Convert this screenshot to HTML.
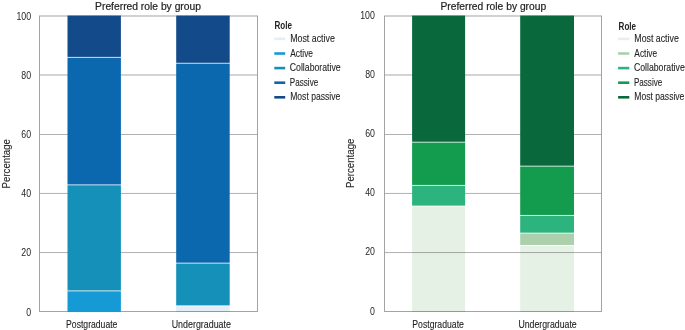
<!DOCTYPE html>
<html lang="en">
<head>
<meta charset="utf-8">
<title>Preferred role by group</title>
<style>
html,body{margin:0;padding:0;background:#fff;}
body{width:685px;height:330px;overflow:hidden;}
svg{display:block;font-family:"Liberation Sans",sans-serif;fill:#1f1f1f;}
text{stroke:#1f1f1f;stroke-width:0.1px;}
.t{stroke-width:0.22px;}
.k{stroke-width:0;}
</style>
</head>
<body>
<svg width="685" height="330" viewBox="0 0 685 330">
<rect x="0" y="0" width="685" height="330" fill="#ffffff"/>
<g>
<line x1="39.5" x2="257.5" y1="252.55" y2="252.55" stroke="#a8a8a8" stroke-width="0.9"/>
<line x1="39.5" x2="257.5" y1="193.45" y2="193.45" stroke="#a8a8a8" stroke-width="0.9"/>
<line x1="39.5" x2="257.5" y1="134.5" y2="134.5" stroke="#a8a8a8" stroke-width="0.9"/>
<line x1="39.5" x2="257.5" y1="75.0" y2="75.0" stroke="#a8a8a8" stroke-width="1.0"/>
<rect x="39.5" y="16.0" width="218.00" height="295.5" fill="none" stroke="#9a9a9a" stroke-width="0.9"/>
<rect x="67.5" y="291.30" width="53.40" height="20.75" fill="#169ad6"/>
<rect x="67.5" y="185.29" width="53.40" height="105.21" fill="#1590b8"/>
<rect x="67.5" y="57.70" width="53.40" height="126.79" fill="#0b67ae"/>
<rect x="67.5" y="15.55" width="53.40" height="41.35" fill="#134a89"/>
<rect x="176.2" y="306.20" width="53.50" height="5.85" fill="#e3eef8" style="mix-blend-mode:multiply"/>
<rect x="176.2" y="263.51" width="53.50" height="41.90" fill="#1590b8"/>
<rect x="176.2" y="63.61" width="53.50" height="199.09" fill="#0b67ae"/>
<rect x="176.2" y="15.55" width="53.50" height="47.26" fill="#134a89"/>
<text class="k" transform="translate(26.22,315.60) scale(0.8700,1)" font-size="10.1" font-weight="normal">0</text>
<text class="k" transform="translate(21.35,256.46) scale(0.8700,1)" font-size="10.1" font-weight="normal">20</text>
<text class="k" transform="translate(21.35,197.32) scale(0.8700,1)" font-size="10.1" font-weight="normal">40</text>
<text class="k" transform="translate(21.35,138.18) scale(0.8700,1)" font-size="10.1" font-weight="normal">60</text>
<text class="k" transform="translate(21.35,79.04) scale(0.8700,1)" font-size="10.1" font-weight="normal">80</text>
<text class="k" transform="translate(16.43,19.90) scale(0.8700,1)" font-size="10.1" font-weight="normal">100</text>
<text transform="translate(9.70,188.40) rotate(-90) scale(0.9130,1)" font-size="10.6">Percentage</text>
<text transform="translate(95.10,9.90) scale(0.9202,1)" font-size="11.2" font-weight="normal" class="t">Preferred role by group</text>
<text transform="translate(66.10,328.20) scale(0.8553,1)" font-size="10.1" font-weight="normal">Postgraduate</text>
<text transform="translate(171.70,328.20) scale(0.8803,1)" font-size="10.1" font-weight="normal">Undergraduate</text>
<text transform="translate(274.50,28.60) scale(0.7626,1)" font-size="10.6" font-weight="bold" class="k">Role</text>
<line x1="274.3" x2="285.2" y1="38.90" y2="38.90" stroke="#e3eef8" stroke-width="2.6"/>
<text transform="translate(290.20,42.10) scale(0.8585,1)" font-size="10.3" font-weight="normal">Most active</text>
<line x1="274.3" x2="285.2" y1="53.50" y2="53.50" stroke="#169ad6" stroke-width="2.6"/>
<text transform="translate(290.20,56.65) scale(0.8123,1)" font-size="10.3" font-weight="normal">Active</text>
<line x1="274.3" x2="285.2" y1="68.10" y2="68.10" stroke="#1590b8" stroke-width="2.6"/>
<text transform="translate(289.80,71.20) scale(0.8469,1)" font-size="10.3" font-weight="normal">Collaborative</text>
<line x1="274.3" x2="285.2" y1="82.70" y2="82.70" stroke="#0b67ae" stroke-width="2.6"/>
<text transform="translate(289.80,85.75) scale(0.7878,1)" font-size="10.3" font-weight="normal">Passive</text>
<line x1="274.3" x2="285.2" y1="97.30" y2="97.30" stroke="#134a89" stroke-width="2.6"/>
<text transform="translate(290.20,100.30) scale(0.8336,1)" font-size="10.3" font-weight="normal">Most passive</text>
</g>
<g>
<line x1="384.5" x2="601.5" y1="252.55" y2="252.55" stroke="#a8a8a8" stroke-width="0.9"/>
<line x1="384.5" x2="601.5" y1="193.45" y2="193.45" stroke="#a8a8a8" stroke-width="0.9"/>
<line x1="384.5" x2="601.5" y1="134.5" y2="134.5" stroke="#a8a8a8" stroke-width="0.9"/>
<line x1="384.5" x2="601.5" y1="75.0" y2="75.0" stroke="#a8a8a8" stroke-width="1.0"/>
<rect x="384.5" y="16.0" width="217.00" height="295.5" fill="none" stroke="#9a9a9a" stroke-width="0.9"/>
<rect x="412.1" y="206.44" width="53.00" height="105.61" fill="#e6f1e6" style="mix-blend-mode:multiply"/>
<rect x="412.1" y="185.74" width="53.00" height="19.90" fill="#2db47e"/>
<rect x="412.1" y="142.56" width="53.00" height="42.37" fill="#149c4e"/>
<rect x="412.1" y="15.55" width="53.00" height="126.21" fill="#09693c"/>
<rect x="520.2" y="245.76" width="53.80" height="66.29" fill="#e6f1e6" style="mix-blend-mode:multiply"/>
<rect x="520.2" y="233.49" width="53.80" height="11.47" fill="#abd0ab"/>
<rect x="520.2" y="215.75" width="53.80" height="16.94" fill="#2db47e"/>
<rect x="520.2" y="166.52" width="53.80" height="48.43" fill="#149c4e"/>
<rect x="520.2" y="15.55" width="53.80" height="150.17" fill="#09693c"/>
<text class="k" transform="translate(370.02,314.50) scale(0.8700,1)" font-size="10.1" font-weight="normal">0</text>
<text class="k" transform="translate(365.15,255.36) scale(0.8700,1)" font-size="10.1" font-weight="normal">20</text>
<text class="k" transform="translate(365.15,196.22) scale(0.8700,1)" font-size="10.1" font-weight="normal">40</text>
<text class="k" transform="translate(365.15,137.08) scale(0.8700,1)" font-size="10.1" font-weight="normal">60</text>
<text class="k" transform="translate(365.15,77.94) scale(0.8700,1)" font-size="10.1" font-weight="normal">80</text>
<text class="k" transform="translate(360.23,18.80) scale(0.8700,1)" font-size="10.1" font-weight="normal">100</text>
<text transform="translate(353.80,188.00) rotate(-90) scale(0.9130,1)" font-size="10.6">Percentage</text>
<text transform="translate(440.40,9.90) scale(0.9193,1)" font-size="11.2" font-weight="normal" class="t">Preferred role by group</text>
<text transform="translate(412.30,328.20) scale(0.8603,1)" font-size="10.1" font-weight="normal">Postgraduate</text>
<text transform="translate(518.40,328.20) scale(0.8669,1)" font-size="10.1" font-weight="normal">Undergraduate</text>
<text transform="translate(618.60,30.00) scale(0.7626,1)" font-size="10.6" font-weight="bold" class="k">Role</text>
<line x1="618.1" x2="629.3" y1="38.90" y2="38.90" stroke="#e6f1e6" stroke-width="2.6"/>
<text transform="translate(634.30,42.10) scale(0.8547,1)" font-size="10.3" font-weight="normal">Most active</text>
<line x1="618.1" x2="629.3" y1="53.50" y2="53.50" stroke="#abd0ab" stroke-width="2.6"/>
<text transform="translate(634.30,56.65) scale(0.8123,1)" font-size="10.3" font-weight="normal">Active</text>
<line x1="618.1" x2="629.3" y1="68.10" y2="68.10" stroke="#2db47e" stroke-width="2.6"/>
<text transform="translate(633.90,71.20) scale(0.8469,1)" font-size="10.3" font-weight="normal">Collaborative</text>
<line x1="618.1" x2="629.3" y1="82.70" y2="82.70" stroke="#149c4e" stroke-width="2.6"/>
<text transform="translate(633.90,85.75) scale(0.7878,1)" font-size="10.3" font-weight="normal">Passive</text>
<line x1="618.1" x2="629.3" y1="97.30" y2="97.30" stroke="#09693c" stroke-width="2.6"/>
<text transform="translate(634.30,100.30) scale(0.8353,1)" font-size="10.3" font-weight="normal">Most passive</text>
</g>
</svg>
</body>
</html>
